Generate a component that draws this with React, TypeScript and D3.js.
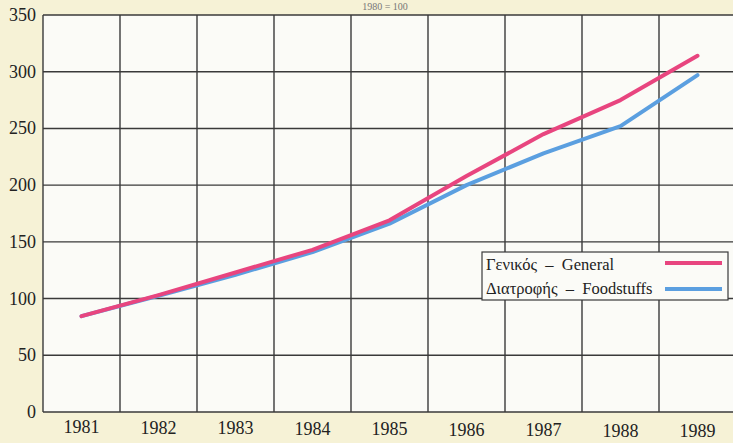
import React from "react";
import * as d3 from "d3";

// Δείκτης τιμών 1980 = 100
const years = ["1981", "1982", "1983", "1984", "1985", "1986", "1987", "1988", "1989"];
const general = [84.5, 103, 123, 143, 169, 208, 245, 275, 314];
const foodstuffs = [84.5, 102.5, 121, 141, 166, 200, 228, 252, 297];
const yTicks = [0, 50, 100, 150, 200, 250, 300, 350];
const legendLabels = ["Γενικός \u00a0–\u00a0 General", "Διατροφής \u00a0–\u00a0 Foodstuffs"];

const W = 733;
const H = 443;
const font = "Liberation Serif, Times New Roman, serif";

export default function App() {
  const x = d3.scaleBand<string>().domain(years).range([43, 736]).padding(0);
  const y = d3.scaleLinear().domain([0, 350]).range([412, 15]);
  const cx = (i: number) => (x(years[i]) ?? 0) + x.bandwidth() / 2;

  const line = d3
    .line<number>()
    .x((_, i) => cx(i))
    .y((d) => y(d))
    .curve(d3.curveLinear);

  const series = [
    { name: legendLabels[0], values: general, color: "#e8457f" },
    { name: legendLabels[1], values: foodstuffs, color: "#5b9fe0" },
  ];

  const bounds = years.map((yr) => x(yr) ?? 0).concat([736]);

  return (
    <svg
      width={W}
      height={H}
      style={{ position: "absolute", left: 0, top: 0, background: "#f6f2d6" }}
    >
      {/* faint subtitle at the top */}
      <text x={385} y={10} textAnchor="middle" fontFamily={font} fontSize={10} fill="#777">
        1980 = 100
      </text>

      {/* plot area */}
      <rect x={43} y={15} width={736 - 43} height={412 - 15} fill="#fbfbf7" />

      {/* horizontal grid */}
      {yTicks.map((t) => (
        <line
          key={t}
          x1={43}
          x2={736}
          y1={y(t)}
          y2={y(t)}
          stroke="#3a3a3a"
          strokeWidth={1.4}
        />
      ))}
      {/* vertical grid */}
      {bounds.map((b, i) => (
        <line key={i} x1={b} x2={b} y1={15} y2={412} stroke="#3a3a3a" strokeWidth={1.4} />
      ))}

      {/* y tick labels */}
      {yTicks.map((t) => (
        <text
          key={t}
          x={36}
          y={y(t) + 6}
          textAnchor="end"
          fontFamily={font}
          fontSize={18}
          fill="#222"
        >
          {t}
        </text>
      ))}

      {/* x labels */}
      {years.map((yr, i) => (
        <text
          key={yr}
          x={cx(i)}
          y={433 + i * 0.5}
          textAnchor="middle"
          fontFamily={font}
          fontSize={18}
          fill="#222"
        >
          {yr}
        </text>
      ))}

      {/* lines: blue first, pink on top */}
      {[series[1], series[0]].map((s) => (
        <path
          key={s.name}
          d={line(s.values) ?? ""}
          fill="none"
          stroke={s.color}
          strokeWidth={4}
          strokeLinecap="round"
          strokeLinejoin="round"
        />
      ))}

      {/* legend */}
      <g>
        <rect x={482} y={252} width={246} height={48} fill="#fbfbf7" stroke="#3a3a3a" strokeWidth={1.2} />
        {series.map((s, i) => (
          <g key={s.name}>
            <text x={486} y={270 + i * 24} fontFamily={font} fontSize={16.5} fill="#222">
              {s.name}
            </text>
            <line
              x1={665}
              x2={722}
              y1={263 + i * 26}
              y2={263 + i * 26}
              stroke={s.color}
              strokeWidth={4}
            />
          </g>
        ))}
      </g>
    </svg>
  );
}
